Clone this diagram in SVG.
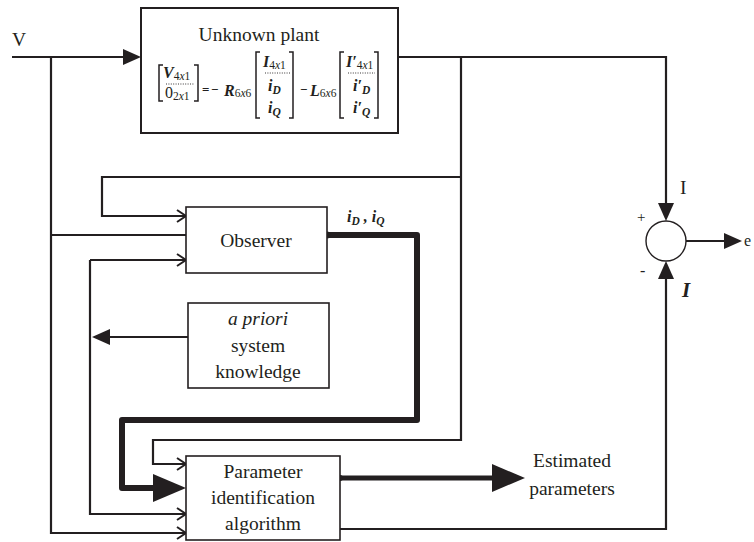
<svg xmlns="http://www.w3.org/2000/svg" width="754" height="542" viewBox="0 0 754 542">
<defs>
<style>
text{font-family:"Liberation Serif","Times New Roman",serif;fill:#231f20}
.lbl{font-size:19.5px}
.mx{font-size:16px;font-weight:bold;font-style:italic}
.op{font-size:13px;font-weight:bold}
.sub{font-size:11.5px;font-weight:normal;font-style:normal}
.box{fill:#fff;stroke:#231f20;stroke-width:1.6}
.ln{fill:none;stroke:#231f20;stroke-width:2.2}
.thick{fill:none;stroke:#231f20;stroke-width:6;stroke-linejoin:round}
.br{fill:none;stroke:#231f20;stroke-width:1.5}
.dot{fill:none;stroke:#231f20;stroke-width:0.9;stroke-dasharray:1 1.4}
</style>
<marker id="fa" markerUnits="userSpaceOnUse" markerWidth="18" markerHeight="18" refX="15" refY="8" orient="auto" viewBox="0 0 18 16"><path d="M0,0 L18,8 L0,16 z" fill="#231f20"/></marker>
<marker id="ch" markerUnits="userSpaceOnUse" markerWidth="12" markerHeight="14" refX="10" refY="7" orient="auto" viewBox="0 0 12 14"><path d="M1,1 L10,7 L1,13" fill="none" stroke="#231f20" stroke-width="2"/></marker>
<marker id="big" markerUnits="userSpaceOnUse" markerWidth="33" markerHeight="30" refX="25" refY="15" orient="auto" viewBox="0 0 33 30"><path d="M0,1 L33,15 L0,29 z" fill="#231f20"/></marker>
</defs>

<g id="connectors">
<path class="ln" d="M12,57 H138" marker-end="url(#fa)"/>
<path class="ln" d="M51,57 V533 H186" marker-end="url(#ch)"/>
<path class="ln" d="M51,235 H186"/>
<path class="ln" d="M398,57 H666 V218" marker-end="url(#fa)"/>
<path class="ln" d="M461,57 V440 H153 V464 H186" marker-end="url(#ch)"/>
<path class="ln" d="M461,177 H102 V216 H186" marker-end="url(#ch)"/>
<path class="ln" d="M90,260 H186" marker-end="url(#ch)"/>
<path class="ln" d="M90,260 V514 H186" marker-end="url(#ch)"/>
<path class="ln" d="M188,337 H95" marker-end="url(#fa)"/>
<path class="thick" d="M327,235 H417 V420 H122 V488 H178" marker-end="url(#big)"/>
<circle cx="327" cy="235" r="3.5" fill="#231f20"/>
<path class="thick" style="stroke-width:5" d="M340,478 H517" marker-end="url(#big)"/>
<circle cx="340" cy="478" r="3" fill="#231f20"/>
<path class="ln" d="M340,529 H666 V264" marker-end="url(#fa)"/>
<path class="ln" d="M686,241 H739" marker-end="url(#fa)"/>
<text x="12" y="46" class="lbl">V</text>
<text x="347" y="222" class="mx">i<tspan class="sub" style="font-weight:bold;font-style:italic" dy="3">D</tspan><tspan dy="-3"> , i</tspan><tspan class="sub" style="font-weight:bold;font-style:italic" dy="3">Q</tspan></text>
<text x="572" y="467" class="lbl" text-anchor="middle">Estimated</text>
<text x="572" y="495" class="lbl" text-anchor="middle">parameters</text>
</g>

<g id="plant">
<rect class="box" x="141" y="8" width="257" height="125" style="stroke-width:2"/>
<text x="259" y="41" class="lbl" text-anchor="middle">Unknown plant</text>
<path class="br" d="M163,65 H159 V101 H163 M194,65 H198 V101 H194"/>
<text x="163" y="78" class="mx">V<tspan class="sub" dy="2">4<tspan font-style="italic">x</tspan>1</tspan></text>
<line class="dot" x1="166" y1="84" x2="194" y2="84"/>
<text x="165" y="98" class="mx" style="font-weight:normal;font-style:normal">0<tspan class="sub" dy="2">2<tspan font-style="italic">x</tspan>1</tspan></text>
<text x="202" y="94" class="op">=</text>
<text x="211" y="94" class="op">−</text>
<text x="224" y="96" class="mx">R<tspan class="sub" dy="1">6<tspan font-style="italic">x</tspan>6</tspan></text>
<path class="br" d="M260,52 H256 V118 H260 M289,52 H293 V118 H289"/>
<text x="263" y="67" class="mx">I<tspan class="sub" dy="2">4<tspan font-style="italic">x</tspan>1</tspan></text>
<line class="dot" x1="265" y1="73" x2="290" y2="73"/>
<text x="268" y="91" class="mx">i<tspan class="sub" style="font-weight:bold;font-style:italic" dy="3">D</tspan></text>
<text x="268" y="113" class="mx">i<tspan class="sub" style="font-weight:bold;font-style:italic" dy="3">Q</tspan></text>
<text x="300" y="94" class="op">−</text>
<text x="310" y="96" class="mx">L<tspan class="sub" dy="1">6<tspan font-style="italic">x</tspan>6</tspan></text>
<path class="br" d="M344,52 H340 V118 H344 M374,52 H378 V118 H374"/>
<text x="346" y="67" class="mx">I′<tspan class="sub" dy="2">4<tspan font-style="italic">x</tspan>1</tspan></text>
<line class="dot" x1="348" y1="73" x2="375" y2="73"/>
<text x="353" y="91" class="mx">i′<tspan class="sub" style="font-weight:bold;font-style:italic" dy="3">D</tspan></text>
<text x="353" y="113" class="mx">i′<tspan class="sub" style="font-weight:bold;font-style:italic" dy="3">Q</tspan></text>
</g>

<g id="observer">
<rect class="box" x="186" y="207" width="141" height="66"/>
<text x="256" y="247" class="lbl" text-anchor="middle">Observer</text>
</g>

<g id="apriori">
<rect class="box" x="188" y="303" width="141" height="85"/>
<text x="258" y="325" class="lbl" text-anchor="middle" font-style="italic">a priori</text>
<text x="258" y="352" class="lbl" text-anchor="middle">system</text>
<text x="258" y="378" class="lbl" text-anchor="middle">knowledge</text>
</g>

<g id="param">
<rect class="box" x="186" y="456" width="154" height="84"/>
<text x="263" y="478" class="lbl" text-anchor="middle">Parameter</text>
<text x="263" y="504" class="lbl" text-anchor="middle">identification</text>
<text x="263" y="530" class="lbl" text-anchor="middle">algorithm</text>
</g>

<g id="summer">
<circle cx="666" cy="241" r="20" fill="#fff" stroke="#231f20" stroke-width="1.4"/>
<text x="680" y="194" class="lbl">I</text>
<text x="637" y="222" style="font-size:15px">+</text>
<text x="640" y="276" style="font-size:16px">-</text>
<text x="682" y="297" class="lbl" style="font-weight:bold;font-style:italic;font-size:21px">I</text>
<text x="744" y="246" style="font-size:16px">e</text>
</g>
</svg>
